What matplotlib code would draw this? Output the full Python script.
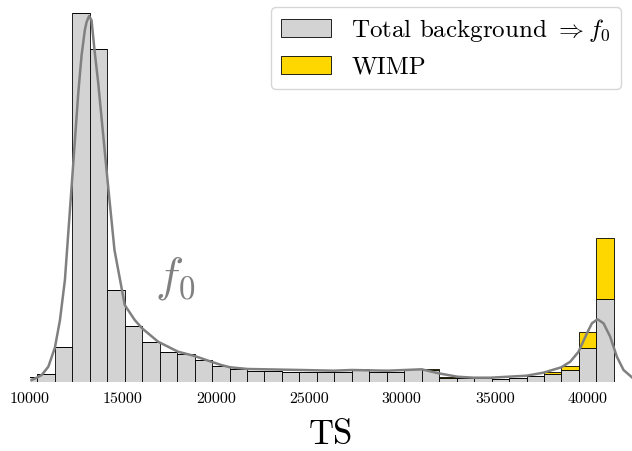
import numpy as np
import matplotlib
matplotlib.use("Agg")
import matplotlib.pyplot as plt

plt.rcParams['font.family'] = 'serif'
plt.rcParams['font.serif'] = ['cmr10']
plt.rcParams['mathtext.fontset'] = 'cm'
plt.rcParams['axes.formatter.use_mathtext'] = True

# histogram bins (TS)
bin_start = 9457
bin_width = 939.7
n_bins = 34

# stacked counts per bin (arbitrary units)
background = [5, 8.3, 35, 369.6, 333, 92.3, 56.3, 40.6, 30.6, 28, 22.3, 16.3,
              13, 11.6, 11.6, 10.6, 10.6, 10.6, 10, 13.6, 10, 10.6, 13.3, 12.3,
              4.6, 4, 4, 3.3, 4.6, 6.3, 8.3, 12, 34.6, 83]
wimp = [0, 0, 0, 0, 0, 0, 0, 0, 0, 0, 0, 0,
        0, 0, 0, 0, 0, 0, 0, 0, 0, 0, 0, 1,
        1, 0, 0, 0, 0, 0.3, 2.3, 4.5, 15.3, 61]

# smoothed f0 curve
f0_ts = [10091, 10359, 10628, 10987, 11341, 11610, 11878, 12275, 12597, 12774,
         12951, 13041, 13176, 13310, 13471, 13670, 14169, 14544, 15097, 15633,
         16030, 16889, 17962, 18852, 19748, 20285, 20768, 21717, 22645, 24577,
         26347, 27313, 29228, 31068, 31980, 32983, 33858, 34770, 35736, 36702,
         37614, 38580, 39063, 39508, 39959, 40227, 40528, 40850, 41209, 41569,
         41928, 42379]
f0_val = [2.3, 4.6, 7.3, 15.6, 34.8, 62, 102.3, 205.3, 289.3, 327,
          352.3, 360, 366.3, 362, 332, 299.3, 202.3, 132.3, 77.3, 62.3,
          54, 40.6, 30.6, 26.3, 20.6, 17.3, 15, 13.3, 13, 12.3,
          11.6, 12.3, 11.6, 13, 9, 5.6, 4.6, 4.6, 5.6, 6.6,
          9.6, 15, 20.6, 30.6, 49, 59, 63, 59, 45.6, 25.6,
          12.3, 5]

edges = bin_start + bin_width * np.arange(n_bins + 1)
centers = (edges[:-1] + edges[1:]) / 2

fig = plt.figure(figsize=(6.32, 4.51), dpi=100)
ax = fig.add_axes([30 / 632, (451 - 382.3) / 451, 1 - 30 / 632, 382.3 / 451])

ax.hist([centers, centers], bins=edges, weights=[background, wimp], stacked=True,
        color=['lightgray', 'gold'], edgecolor='black', linewidth=0.6,
        label=[r'Total background $\Rightarrow f_0$', 'WIMP'])
ax.plot(f0_ts, f0_val, color='gray', lw=1.8)

ax.text(16744, 92, r'$f_0$', fontsize=34, color='gray')

ax.set_xlim(10091, 42383)
ax.set_ylim(0, 382.3)
ax.set_yticks([])
ax.set_xticks([10000, 15000, 20000, 25000, 30000, 35000, 40000])
ax.set_xticklabels(['10000', '15000', '20000', '25000', '30000', '35000', '40000'])
ax.tick_params(axis='x', length=0, pad=7, labelsize=11.5)
for s in ax.spines.values():
    s.set_visible(False)
ax.set_xlabel('TS', fontsize=25, labelpad=10)

ax.legend(loc='upper right', fontsize=18, borderaxespad=0.45,
          bbox_to_anchor=(1.0, 1.0 + 4.5 / 382.3))

fig.savefig('out.png', dpi=100)
